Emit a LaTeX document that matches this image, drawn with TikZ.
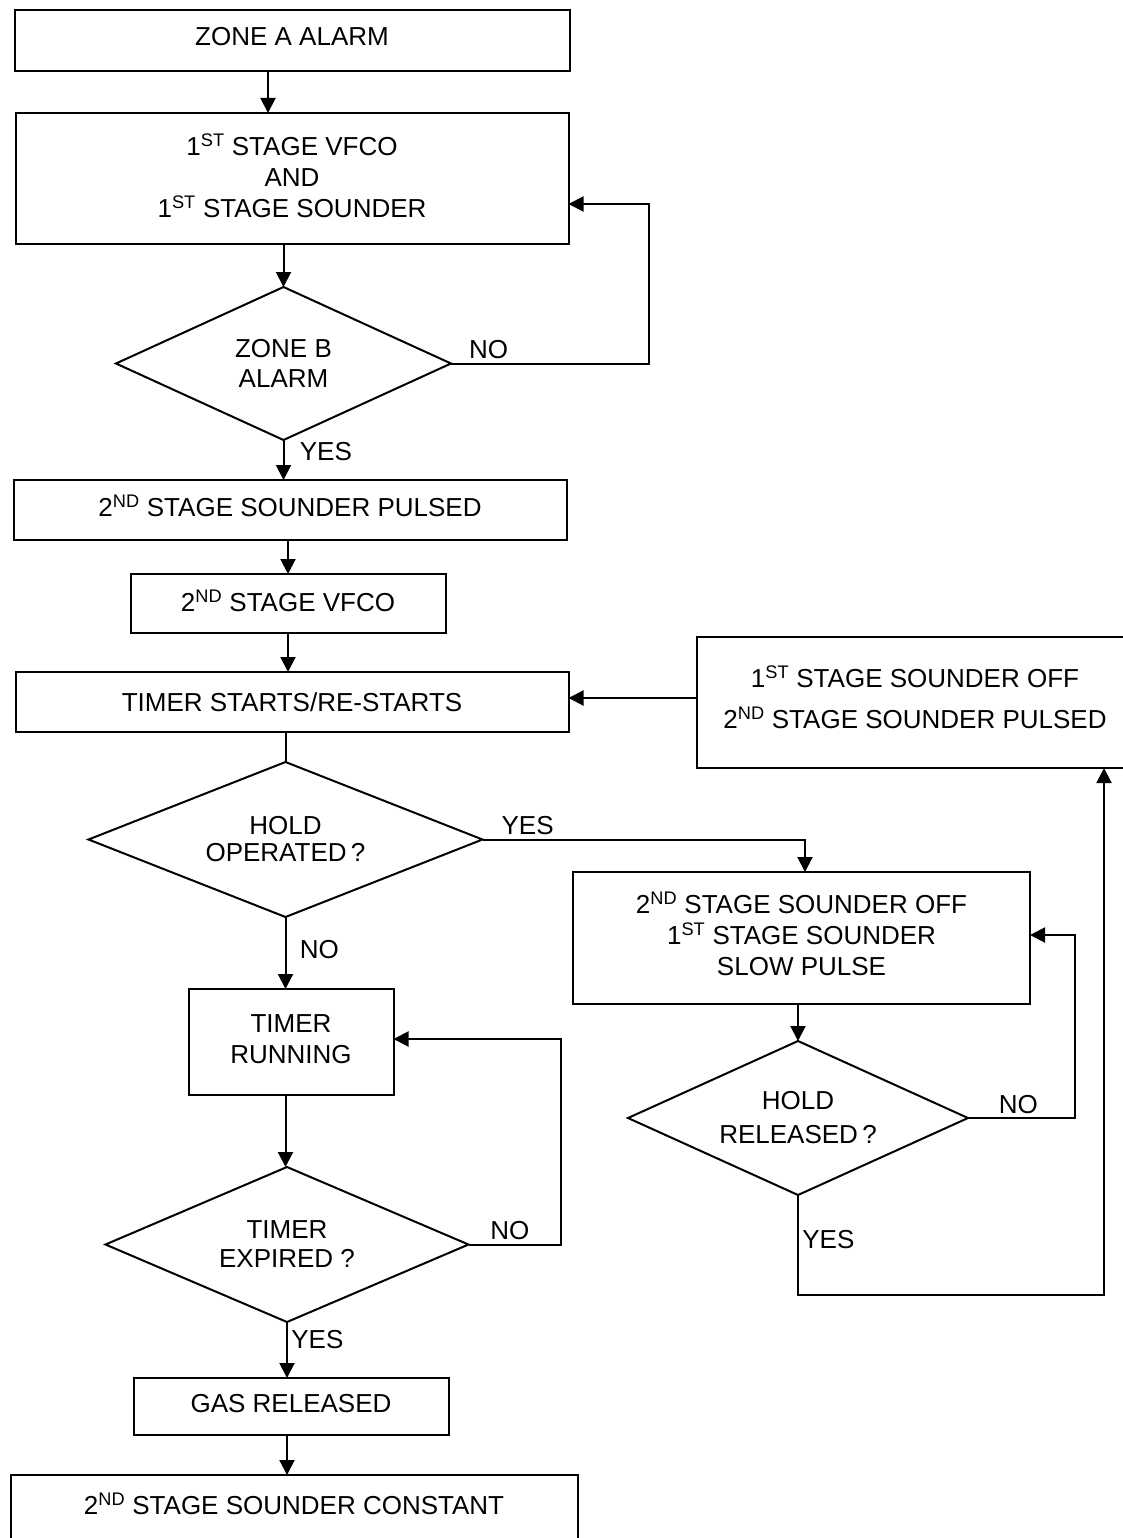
\documentclass[tikz,border=0pt]{standalone}
\usepackage{fontspec}
\setmainfont{Liberation Sans}
\usetikzlibrary{arrows.meta,positioning,shapes.geometric}

\begin{document}
\begin{tikzpicture}[
        x=1pt, y=-1pt,
        box/.style={rectangle, draw, line width=2pt, inner sep=0pt, outer sep=0pt, text depth=6pt, align=center, font=\fontsize{26}{31}\selectfont},
        decision/.style={diamond, draw, line width=2pt, inner sep=0pt, outer sep=0pt, aspect=2.4, align=center, font=\fontsize{26}{30}\selectfont},
        arrow/.style={-{Triangle[length=15pt,width=15pt]}, line width=2pt},
        link/.style={line width=2pt},
        lbl/.style={font=\fontsize{26}{31}\selectfont}
    ]
        \path[use as bounding box, clip] (0,0) rectangle (1123,1538);

        % main column
        \node[box, minimum width=555pt, minimum height=61pt, text depth=8pt] (zoneA) at (292,40.5) {ZONE A ALARM};
        \node[box, minimum width=553pt, minimum height=131pt, below=42pt of zoneA] (stageOne) {1\textsuperscript{ST} STAGE VFCO\\AND\\1\textsuperscript{ST} STAGE SOUNDER};
        \node[decision, minimum width=335pt, minimum height=153pt, below=43pt of stageOne, xshift=-8.5pt] (zoneB) {ZONE B\\ALARM};
        \node[box, minimum width=553pt, minimum height=60pt, text depth=9pt, below=40pt of zoneB, xshift=6.5pt] (pulsed) {2\textsuperscript{ND} STAGE SOUNDER PULSED};
        \node[box, minimum width=315pt, minimum height=59pt, below=34pt of pulsed, xshift=-2pt] (vfco) {2\textsuperscript{ND} STAGE VFCO};
        \node[box, minimum width=553pt, minimum height=60pt, text depth=0pt, below=39pt of vfco, xshift=4pt] (timer) {TIMER STARTS/RE-STARTS};
        \node[decision, minimum width=394pt, minimum height=155pt, aspect=2.6, below=30pt of timer, xshift=-6.5pt, font=\fontsize{26}{27}\selectfont] (hold) {HOLD\\OPERATED\,?};
        \node[box, minimum width=205pt, minimum height=106pt, below=72pt of hold, xshift=5.5pt] (running) {TIMER\\RUNNING};
        \node[decision, minimum width=363pt, minimum height=155pt, below=72pt of running, xshift=-4pt, font=\fontsize{26}{29}\selectfont] (expired) {TIMER\\EXPIRED ?};
        \node[box, minimum width=315pt, minimum height=57pt, below=56pt of expired, xshift=4pt] (gas) {GAS RELEASED};
        \node[box, minimum width=567pt, minimum height=64pt, below=40pt of gas, xshift=3pt] (constant) {2\textsuperscript{ND} STAGE SOUNDER CONSTANT};

        % right column
        \node[box, minimum width=457pt, minimum height=132pt, text depth=8pt] (soundOff) at (801.5,938) {2\textsuperscript{ND} STAGE SOUNDER OFF\\1\textsuperscript{ST} STAGE SOUNDER\\SLOW PULSE};
        \node[decision, minimum width=340pt, minimum height=154pt, aspect=2.2, below=37pt of soundOff, xshift=-3.5pt, font=\fontsize{26}{34}\selectfont] (release) {HOLD\\RELEASED\,?};
        \node[box, minimum width=436pt, minimum height=131pt, text depth=10pt, font=\fontsize{26}{41}\selectfont] (pulsedBack) at (915,702.5) {1\textsuperscript{ST} STAGE SOUNDER OFF\\2\textsuperscript{ND} STAGE SOUNDER PULSED};

        \draw[arrow] ([xshift=-24pt]zoneA.south) -- ([xshift=-24pt]zoneA.south |- stageOne.north);
        \draw[arrow] (zoneB.north |- stageOne.south) -- (zoneB.north);
        \draw[arrow] (zoneB.south) -- node[lbl, right, pos=0.3, xshift=12pt] {YES} (zoneB.south |- pulsed.north);
        \draw[arrow] (zoneB.east) -- node[lbl, above, pos=0.19] {NO} ++(198,0) |- ([yshift=-25.5pt]stageOne.east);
        \draw[arrow] (vfco.north |- pulsed.south) -- (vfco.north);
        \draw[arrow] (vfco.south) -- (vfco.south |- timer.north);
        \draw[link] (hold.north |- timer.south) -- (hold.north);
        \draw[arrow] (hold.east) -| node[lbl, above, pos=0.07] {YES} ([xshift=3.5pt]soundOff.north);
        \draw[arrow] (hold.south) -- node[lbl, right, pos=0.45, xshift=10pt] {NO} (hold.south |- running.north);
        \draw[arrow] (hold.south |- running.south) -- (hold.south |- expired.north);
        \draw[arrow] (expired.east) -- node[lbl, above, pos=0.45] {NO} ++(92,0) |- ([yshift=3pt]running.east);
        \draw[arrow] (expired.south) -- node[lbl, right, pos=0.32] {YES} (expired.south |- gas.north);
        \draw[arrow] (expired.south |- gas.south) -- (expired.south |- constant.north);

        \draw[arrow] (release.north |- soundOff.south) -- (release.north);
        \draw[arrow] (release.east) -- node[lbl, above, pos=0.47] {NO} ++(107,0) |- ([yshift=3pt]soundOff.east);
        \draw[arrow] (release.south) -- node[lbl, right, pos=0.45] {YES} ++(0,100) -| ([xshift=189pt]pulsedBack.south);
        \draw[arrow] ([yshift=4.5pt]pulsedBack.west) -- ([yshift=4.5pt]pulsedBack.west -| timer.east);
    \end{tikzpicture}
\end{document}
